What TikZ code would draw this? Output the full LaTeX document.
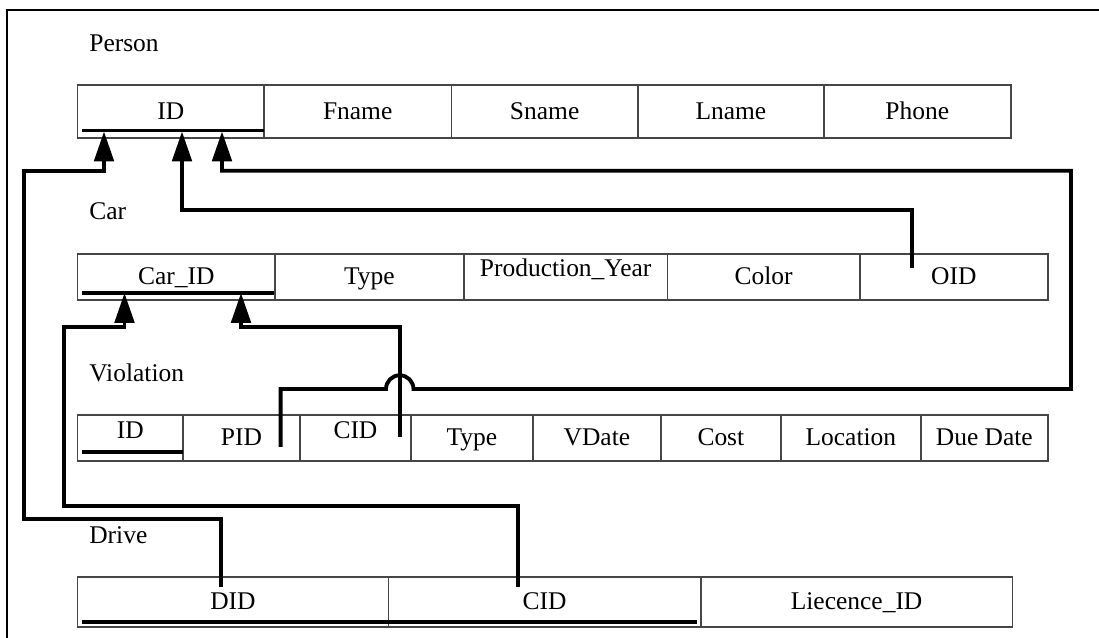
\documentclass[tikz,border=0pt]{standalone}
\usepackage{fontspec}
\setmainfont{Liberation Serif}
\usetikzlibrary{positioning,arrows.meta}

\newcommand\lifted[1]{\raisebox{4.5pt}{#1}}

\begin{document}
\begin{tikzpicture}[x=0.02cm, y=-0.02cm,
  cell/.style={draw=cellline, line width=0.8pt, inner sep=0pt, outer sep=0pt,
    text height=11pt, text depth=2pt, font=\fontsize{14.5}{16}\selectfont},
  tabletitle/.style={anchor=west, inner sep=0pt, font=\fontsize{14.5}{16}\selectfont},
  keyline/.style={line width=1.8pt},
  link/.style={line width=2.2pt, -{Triangle[length=0.6cm, width=0.39cm]}}]

  \definecolor{cellline}{RGB}{70, 70, 70}

  \useasboundingbox (0,0) rectangle (1099,638);
  \clip (0,0) rectangle (1099,638);

  % Frame
  \draw[line width=1.2pt] (7,660) -- (7,10) -- (1120,10);

  % Person
  \node[tabletitle] (personlbl) at (89,43) {Person};
  \node[cell, minimum height=1.06cm, minimum width=3.73cm, anchor=west] (pid) at (77.5,111.5) {ID};
  \node[cell, minimum height=1.06cm, minimum width=3.75cm, right=0pt of pid] (pfname) {Fname};
  \node[cell, minimum height=1.06cm, minimum width=3.73cm, right=0pt of pfname] (psname) {Sname};
  \node[cell, minimum height=1.06cm, minimum width=3.72cm, right=0pt of psname] (plname) {Lname};
  \node[cell, minimum height=1.06cm, minimum width=3.74cm, right=0pt of plname] (pphone) {Phone};

  % Car
  \node[tabletitle] (carlbl) at (89,211.5) {Car};
  \node[cell, minimum height=0.92cm, minimum width=3.95cm, anchor=west] (carid) at (77.5,277) {Car\_ID};
  \node[cell, minimum height=0.92cm, minimum width=3.78cm, right=0pt of carid] (ctype) {Type};
  \node[cell, minimum height=0.92cm, minimum width=4.07cm, right=0pt of ctype] (cyear) {\lifted{Production\_Year}};
  \node[cell, minimum height=0.92cm, minimum width=3.85cm, right=0pt of cyear] (ccolor) {Color};
  \node[cell, minimum height=0.92cm, minimum width=3.76cm, right=0pt of ccolor] (coid) {OID};

  % Violation
  \node[tabletitle] (violationlbl) at (89,373) {Violation};
  \node[cell, minimum height=0.92cm, minimum width=2.11cm, anchor=west] (vid) at (77.5,438) {\lifted{ID}};
  \node[cell, minimum height=0.92cm, minimum width=2.34cm, right=0pt of vid] (vpid) {PID};
  \node[cell, minimum height=0.92cm, minimum width=2.22cm, right=0pt of vpid] (vcid) {\lifted{CID}};
  \node[cell, minimum height=0.92cm, minimum width=2.44cm, right=0pt of vcid] (vtype) {Type};
  \node[cell, minimum height=0.92cm, minimum width=2.56cm, right=0pt of vtype] (vdate) {VDate};
  \node[cell, minimum height=0.92cm, minimum width=2.40cm, right=0pt of vdate] (vcost) {Cost};
  \node[cell, minimum height=0.92cm, minimum width=2.80cm, right=0pt of vcost] (vloc) {Location};
  \node[cell, minimum height=0.92cm, minimum width=2.54cm, right=0pt of vloc] (vdue) {Due Date};

  % Drive
  \node[tabletitle] (drivelbl) at (89,535) {Drive};
  \node[cell, minimum height=1.0cm, minimum width=6.22cm, anchor=west] (did) at (77.5,602) {DID};
  \node[cell, minimum height=1.0cm, minimum width=6.25cm, right=0pt of did] (dcid) {CID};
  \node[cell, minimum height=1.0cm, minimum width=6.23cm, right=0pt of dcid] (dlic) {Liecence\_ID};

  % Primary keys
  \draw[keyline] ([xshift=0.09cm, yshift=0.15cm]pid.south west) -- ([yshift=0.15cm]pid.south east);
  \draw[keyline] ([xshift=0.09cm, yshift=0.14cm]carid.south west) -- ([xshift=-0.02cm, yshift=0.14cm]carid.south east);
  \draw[keyline] ([xshift=0.09cm, yshift=0.18cm]vid.south west) -- ([yshift=0.18cm]vid.south east);
  \draw[keyline] ([xshift=0.09cm, yshift=0.10cm]did.south west) -- ([xshift=-0.075cm, yshift=0.10cm]dcid.south east);

  % Foreign key ports
  \coordinate (didport) at (221,587);
  \coordinate (dcidport) at (518,587);
  \coordinate (vcidport) at (400,437);
  \coordinate (pidport) at (280.6,447);
  \coordinate (oidport) at (912,268);

  % References
  \draw[link, shorten >=-0.13cm] (didport) |- (24,519) |- (104,170.7) -- (104,0 |- pid.south);
  \draw[link, shorten >=-0.14cm] (dcidport) |- (64,506) |- (124.5,327.3) -- (124.5,0 |- carid.south);
  \draw[link, shorten >=-0.14cm] (vcidport) |- (241,327.3) -- (241,0 |- carid.south);
  \draw[link, shorten >=-0.13cm] (pidport) |- (386,389)
    arc[start angle=180, end angle=0, radius=0.275cm] -- (1071,389) |- (222,170.7) -- (222,0 |- pid.south);
  \draw[link, shorten >=-0.13cm] (oidport) |- (182,210) -- (182,0 |- pid.south);

\end{tikzpicture}
\end{document}
